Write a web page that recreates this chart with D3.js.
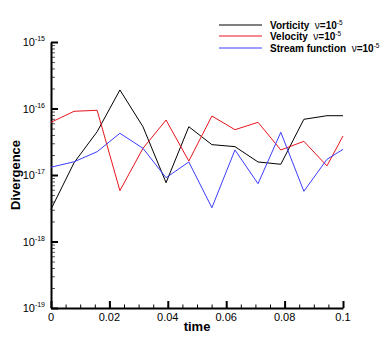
<!DOCTYPE html>
<html>
<head>
<meta charset="utf-8">
<script src="https://cdn.jsdelivr.net/npm/d3@7"></script>
<style>
  body { margin: 0; background: #fff; }
  text { font-family: "Liberation Sans", Arial, sans-serif; white-space: pre; }
</style>
</head>
<body>
<svg id="chart" width="390" height="347"></svg>
<script>
// time samples (output every ~0.0079, last at 0.1)
const times = [0, 0.0079, 0.0158, 0.0236, 0.0315, 0.0394, 0.0472, 0.0551, 0.063, 0.0709, 0.0787, 0.0866, 0.0945, 0.1];

const vorticity = [3.05e-18, 1.53e-17, 4.48e-17, 1.90e-16, 5.32e-17, 7.66e-18, 5.32e-17, 2.86e-17, 2.67e-17, 1.57e-17, 1.45e-17, 6.88e-17, 7.79e-17, 7.79e-17];
const velocity = [6.20e-17, 9.08e-17, 9.40e-17, 5.81e-18, 2.52e-17, 6.71e-17, 1.62e-17, 7.71e-17, 4.80e-17, 6.20e-17, 2.38e-17, 3.21e-17, 1.37e-17, 3.86e-17];
const streamFn = [1.31e-17, 1.58e-17, 2.24e-17, 4.24e-17, 2.52e-17, 9.10e-18, 1.57e-17, 3.22e-18, 2.38e-17, 7.40e-18, 4.39e-17, 5.69e-18, 1.72e-17, 2.43e-17];

const seriesNames = ['Vorticity', 'Velocity', 'Stream function'];
const seriesColors = ['#000000', '#e8141c', '#3c3cff'];
const xTicks = [0, 0.02, 0.04, 0.06, 0.08, 0.1];
const yExps = [-15, -16, -17, -18, -19];

const svg = d3.select('#chart');
const x = d3.scaleLinear().domain([0, 0.1]).range([51, 343]);
const y = d3.scaleLog().domain([1e-19, 1e-15]).range([308, 42]);

// minor ticks on y (2..9 per decade)
const yMinor = [];
for (let e = -19; e < -15; e++) {
  for (let m = 2; m <= 9; m++) yMinor.push(m * Math.pow(10, e));
}
svg.append('g').attr('transform', 'translate(51,0)')
  .call(d3.axisLeft(y).tickValues(yMinor).tickSize(-4).tickFormat(''))
  .call(g => g.select('.domain').remove())
  .call(g => g.selectAll('line').attr('stroke', '#555').attr('stroke-width', 1));

// minor ticks on x
const xMinor = d3.range(0, 0.1001, 0.005);
svg.append('g').attr('transform', 'translate(0,308)')
  .call(d3.axisBottom(x).tickValues(xMinor).tickSize(-3.5).tickFormat(''))
  .call(g => g.select('.domain').remove())
  .call(g => g.selectAll('line').attr('stroke', '#000').attr('stroke-width', 1));

// major ticks + axis lines
const yAxis = svg.append('g').attr('transform', 'translate(51,0)')
  .call(d3.axisLeft(y).tickValues(yExps.map(e => Math.pow(10, e))).tickSize(-7).tickSizeOuter(0).tickFormat(''));
yAxis.select('.domain').attr('stroke-width', 2);
yAxis.selectAll('line').attr('stroke-width', 2);

const xAxis = svg.append('g').attr('transform', 'translate(0,308)')
  .call(d3.axisBottom(x).tickValues(xTicks).tickSize(-7).tickSizeOuter(0).tickFormat(''));
xAxis.select('.domain').attr('stroke-width', 2);
xAxis.selectAll('line').attr('stroke-width', 2);

// y tick labels with superscripts
yExps.forEach(e => {
  const t = svg.append('text')
    .attr('x', 45).attr('y', y(Math.pow(10, e)) + 4)
    .attr('text-anchor', 'end').attr('font-size', 11);
  t.append('tspan').text('10');
  t.append('tspan').attr('dy', -5).attr('font-size', 7).text(String(e));
});

// x tick labels
svg.selectAll('.xl').data(xTicks).enter().append('text')
  .attr('x', d => x(d)).attr('y', 321)
  .attr('text-anchor', 'middle').attr('font-size', 11)
  .text(d => d === 0 ? '0' : String(d));

// axis titles
svg.append('text').attr('x', 197).attr('y', 331)
  .attr('text-anchor', 'middle').attr('font-size', 13).attr('font-weight', 'bold').text('time');
svg.append('text').attr('transform', 'translate(20,175) rotate(-90)')
  .attr('text-anchor', 'middle').attr('font-size', 13).attr('font-weight', 'bold').text('Divergence');

// lines
const line = d3.line().x((d, i) => x(times[i])).y(d => y(d));
[vorticity, velocity, streamFn].forEach((s, i) => {
  svg.append('path').datum(s).attr('d', line)
    .attr('fill', 'none').attr('stroke', seriesColors[i]).attr('stroke-width', 1);
});

// legend
const legY = [25, 36, 48];
seriesNames.forEach((n, i) => {
  svg.append('line').attr('x1', 219).attr('x2', 262).attr('y1', legY[i]).attr('y2', legY[i])
    .attr('stroke', seriesColors[i]).attr('stroke-width', 1);
  const t = svg.append('text').attr('x', 270).attr('y', legY[i] + 4).attr('font-size', 10);
  t.append('tspan').attr('font-weight', 'bold').text(n + '  ');
  t.append('tspan').text('\u03bd');
  t.append('tspan').attr('font-weight', 'bold').text('=10');
  t.append('tspan').attr('dy', -4).attr('font-size', 6.5).text('-5');
});
</script>
</body>
</html>
